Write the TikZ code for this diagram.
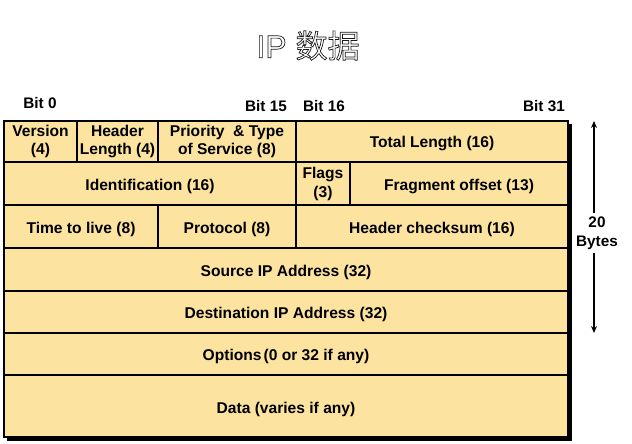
\documentclass[tikz,border=0pt]{standalone}
\usepackage{fontspec}
\setmainfont{Liberation Sans}
\newfontfamily\cjk{Noto Sans CJK SC}
\usetikzlibrary{arrows.meta}
\definecolor{cellfill}{RGB}{252,228,160}

% outlined text: white fill with a thin dark stroke
\newcommand\outlinetext[1]{%
  \color{white}\special{pdf:code q 2 Tr 0.7 w 0.1 G}#1\special{pdf:code Q}}

\tikzset{
  cell/.style={draw=black, fill=cellfill, line width=1.6pt, inner sep=0pt},
  celltext/.style={align=center, inner sep=0pt,
    font=\fontsize{15.6}{18.5}\selectfont\bfseries},
  bitlabel/.style={font=\fontsize{15.3}{18}\selectfont\bfseries, inner sep=0pt},
  bytelabel/.style={font=\fontsize{15.3}{19}\selectfont\bfseries, align=center, inner sep=1pt},
  sizearrow/.style={line width=1.6pt, -{Stealth[length=7pt,width=6pt]}},
  titletext/.style={font=\fontsize{32}{36}\selectfont, inner sep=0pt}
}

% one field of the header: name, x1, y1, x2, y2, vertical text offset, text
\newcommand\ipcell[7]{%
  \node[cell, minimum width={#4-#2}, minimum height={#5-#3},
        label={[celltext, yshift={-(#6)}]center:{#7}}]
    (#1) at ({(#2+#4)/2},{(#3+#5)/2}) {};}

\begin{document}
\begin{tikzpicture}[x=1pt,y=-1pt]
  \useasboundingbox (0,0) rectangle (632,444);

  % title
  \node[titletext] (title) at (308,45.6) {\outlinetext{IP {\cjk 数据}}};

  % bit positions
  \node[bitlabel] (bit0)  at (40,103)  {Bit 0};
  \node[bitlabel] (bit15) at (266,106) {Bit 15};
  \node[bitlabel] (bit16) at (324,106) {Bit 16};
  \node[bitlabel] (bit31) at (544,106) {Bit 31};

  % drop shadow of the header table
  \fill[black] (7,124) rectangle (571.5,440.5);

  % row 1
  \ipcell{version}{4}{121}{77}{162}{0}{Version\\(4)}
  \ipcell{hlen}{77}{121}{158}{162}{0}{Header\\Length (4)}
  \ipcell{tos}{158}{121}{296}{162}{0}{Priority \ \& Type\\of Service (8)}
  \ipcell{totlen}{296}{121}{568}{162}{2.5}{Total Length (16)}
  % row 2
  \ipcell{ident}{4}{162}{296}{205}{2.5}{Identification (16)}
  \ipcell{flags}{296}{162}{350}{205}{0.5}{Flags\\(3)}
  \ipcell{frag}{350}{162}{568}{205}{2.5}{Fragment offset (13)}
  % row 3
  \ipcell{ttl}{4}{205}{158}{248}{2.5}{Time to live (8)}
  \ipcell{proto}{158}{205}{296}{248}{2.5}{Protocol (8)}
  \ipcell{cksum}{296}{205}{568}{248}{2.5}{Header checksum (16)}
  % rows 4 to 7
  \ipcell{src}{4}{248}{568}{291}{2.5}{Source IP Address (32)}
  \ipcell{dst}{4}{291}{568}{333}{2.5}{Destination IP Address (32)}
  \ipcell{opts}{4}{333}{568}{375}{2.5}{Options\hspace{2pt}(0 or 32 if any)}
  \ipcell{data}{4}{375}{568}{437}{3}{Data (varies if any)}

  % size of the fixed header
  \node[bytelabel] (bytes) at (597,233) {20\\Bytes};
  \coordinate (hdrtop) at (594,121);
  \coordinate (hdrbot) at (594,333);
  \draw[sizearrow] (bytes.north -| hdrtop) ++(0,-2) -- (hdrtop);
  \draw[sizearrow] (bytes.south -| hdrbot) ++(0,2) -- (hdrbot);
\end{tikzpicture}
\end{document}
